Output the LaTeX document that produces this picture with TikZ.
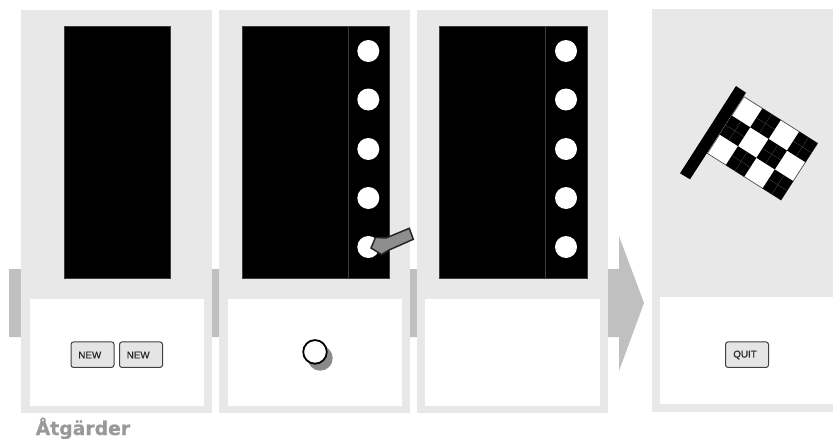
\documentclass[tikz,border=0pt]{standalone}
\usepackage{fontspec}
\setmainfont{Liberation Sans}
\newfontfamily\headfont[FakeBold=0.5]{DejaVu Sans Bold}
\newfontfamily\btnfont[FakeBold=0.45]{Liberation Sans}
\definecolor{panelgrey}{HTML}{E8E8E8}
\definecolor{stepgrey}{HTML}{C0C0C0}
\definecolor{btnfill}{HTML}{E4E5E4}
\definecolor{btnline}{HTML}{404040}
\definecolor{edgegrey}{HTML}{3C3C3C}
\definecolor{ptrgrey}{HTML}{8E8E8E}
\definecolor{shadegrey}{HTML}{8A8A8A}
\definecolor{headgrey}{HTML}{999999}
\newcommand\flagpt[2]{({744+18.4*(#1)-12.2*(#2)},{96.7+11.65*(#1)+18.9*(#2)})}
\tikzset{
  x=1pt,y=-1pt,
  panel/.style={fill=panelgrey,draw=none},
  whitebox/.style={fill=white,draw=none},
  blackbox/.style={fill=black,draw=edgegrey,line width=.6pt},
  hole/.style={fill=white,draw=none},
  btn/.style={draw=btnline,fill=btnfill,line width=1pt,rounded corners=2.5pt,minimum width=43pt,minimum height=25.5pt,inner sep=0pt},
  btntext/.style={font=\btnfont\fontsize{9.8}{10}\selectfont,text=black!85,inner sep=0pt,anchor=center},
}
\begin{document}
\begin{tikzpicture}
\useasboundingbox (0,0) rectangle (833,439);
\fill[white] (0,0) rectangle (833,439);
% step band and arrow
\fill[stepgrey] (9,269) -- (619,269) -- (619,236) -- (644,303) -- (619,371) -- (619,337) -- (9,337) -- cycle;
% panels
\fill[panel] (21,10) rectangle (212,413);
\fill[panel] (219,10) rectangle (410,413);
\fill[panel] (417,10) rectangle (608,413);
\fill[panel] (652,9) rectangle (833,412);
\fill[whitebox] (30,299) rectangle (204,406);
\fill[whitebox] (228,299) rectangle (402,406);
\fill[whitebox] (425,299) rectangle (600,406);
\fill[whitebox] (660,297) rectangle (833,404);
% screens
\path[blackbox] (64,26) rectangle (170,278);
\path[blackbox] (242,26) rectangle (348.5,278);
\path[blackbox] (348.5,26) rectangle (389,278);
\path[blackbox] (439,26) rectangle (545.5,278);
\path[blackbox] (545.5,26) rectangle (587,278);
\foreach \yy in {51,99.5,149,198,247}{
  \fill[hole] (368.3,\yy) circle[radius=11];
  \fill[hole] (566,\yy) circle[radius=11];
}
% pointer
\draw[fill=ptrgrey,draw=black!85,line width=1.5pt,line join=miter]
  (409.3,228.3) -- (413.3,239.3) -- (389,250) -- (381.5,254.5) -- (371,248) -- (375.5,237.5) -- (386,238) -- cycle;
% buttons
\node[btn] (new1) at (92.5,354.7) {};
\node[btn] (new2) at (141,354.7) {};
\node[btn] (quit) at (747,354.7) {};
\node[btntext] (newa) at (89.8,355) {NEW};
\node[btntext] (newb) at (138.2,355) {NEW};
\node[btntext] (quita) at (745,355) {QUIT};
% touch indicator
\fill[shadegrey] (320.2,358.2) circle[radius=12.5];
\draw[fill=white,draw=black,line width=1.8pt] (315,351.9) circle[radius=11.8];
% flag
\fill[black] (736,86) -- (746,92.7) -- (690,179.3) -- (680,173.3) -- cycle;
\draw[fill=white,draw=black!70,line width=.7pt] \flagpt{0}{0} -- \flagpt{4}{0} -- \flagpt{4}{3} -- \flagpt{0}{3} -- cycle;
\foreach \cc/\rr in {1/0,3/0,0/1,2/1,1/2,3/2}{
  \fill[black] \flagpt{\cc}{\rr} -- \flagpt{\cc+1}{\rr} -- \flagpt{\cc+1}{\rr+1} -- \flagpt{\cc}{\rr+1} -- cycle;
  \draw[edgegrey,line width=.45pt] \flagpt{\cc+.5}{\rr} -- \flagpt{\cc+.5}{\rr+1};
  \draw[edgegrey,line width=.45pt] \flagpt{\cc}{\rr+.5} -- \flagpt{\cc+1}{\rr+.5};
}
% heading
\node[anchor=base west,inner sep=0pt,text=headgrey,font=\headfont\fontsize{18.8}{20}\selectfont] (title) at (35.5,435) {Åtgärder};
\end{tikzpicture}
\end{document}
